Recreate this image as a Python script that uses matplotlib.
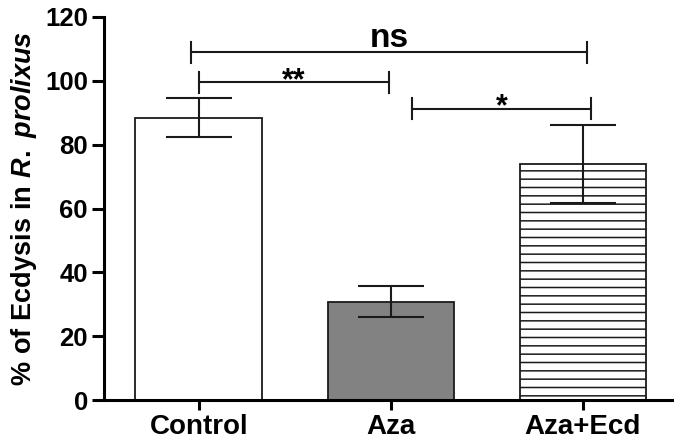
import numpy as np
import matplotlib
matplotlib.use('Agg')
import matplotlib.pyplot as plt

plt.rcParams['font.family'] = ['Liberation Sans', 'DejaVu Sans']
plt.rcParams['font.weight'] = 'bold'
plt.rcParams['hatch.linewidth'] = 1.1
plt.rcParams['mathtext.fontset'] = 'custom'
plt.rcParams['mathtext.rm'] = 'Liberation Sans:bold'
plt.rcParams['mathtext.it'] = 'Liberation Sans:bold:italic'
plt.rcParams['mathtext.bf'] = 'Liberation Sans:bold'

groups = ['Control', 'Aza', 'Aza+Ecd']
means = [88.5, 30.8, 73.8]
errs = [6.0, 4.8, 12.2]
fills = ['white', '#828282', 'white']
hatches = ['', '', '--']

# significance brackets: (x start, x end, y, label)
brackets = [(-0.04, 2.02, 109, 'ns'),
            (0.0, 0.99, 99.5, '**'),
            (1.11, 2.04, 91.2, '*')]

fig = plt.figure(figsize=(6.74, 4.46), dpi=100)
ax = fig.add_axes([0.154, 0.103, 0.846, 0.859])

x = np.arange(len(groups))
ax.bar(x, means, width=0.66, color=fills, edgecolor='#1a1a1a',
       linewidth=1.3, hatch=hatches, zorder=2)
ax.errorbar(x, means, yerr=errs, fmt='none', ecolor='#1a1a1a',
            elinewidth=1.5, capsize=24, capthick=1.5, zorder=3)

for x0, x1, y, lab in brackets:
    ax.plot([x0, x1], [y, y], color='#1a1a1a', lw=1.5)
    ax.plot([x0, x0], [y - 3.3, y + 3.3], color='#1a1a1a', lw=1.5)
    ax.plot([x1, x1], [y - 3.3, y + 3.3], color='#1a1a1a', lw=1.5)
    if lab == 'ns':
        ax.text((x0 + x1) / 2, y + 1.6, lab, ha='center', va='baseline',
                fontsize=24, fontweight='bold')
    else:
        ax.text((x0 + x1) / 2, y - 2.0, lab, ha='center', va='baseline',
                fontsize=22, fontweight='bold')

ax.set_xlim(-0.495, 2.474)
ax.set_ylim(0, 120)
ax.set_yticks(np.arange(0, 121, 20))
ax.set_xticks(x)
ax.set_xticklabels(groups, fontsize=20, fontweight='bold')
ax.tick_params(axis='y', labelsize=18.5, length=8.5, width=2.2, pad=3)
ax.tick_params(axis='x', length=7, width=2.2, pad=3)
for s in ['top', 'right']:
    ax.spines[s].set_visible(False)
for s in ['left', 'bottom']:
    ax.spines[s].set_linewidth(2.2)

ax.set_ylabel(r'$\mathrm{\%\ of\ Ecdysis\ in}\ \mathit{R.\ prolixus}$',
              fontsize=19.5, labelpad=4)

fig.savefig('out.png', dpi=100)
